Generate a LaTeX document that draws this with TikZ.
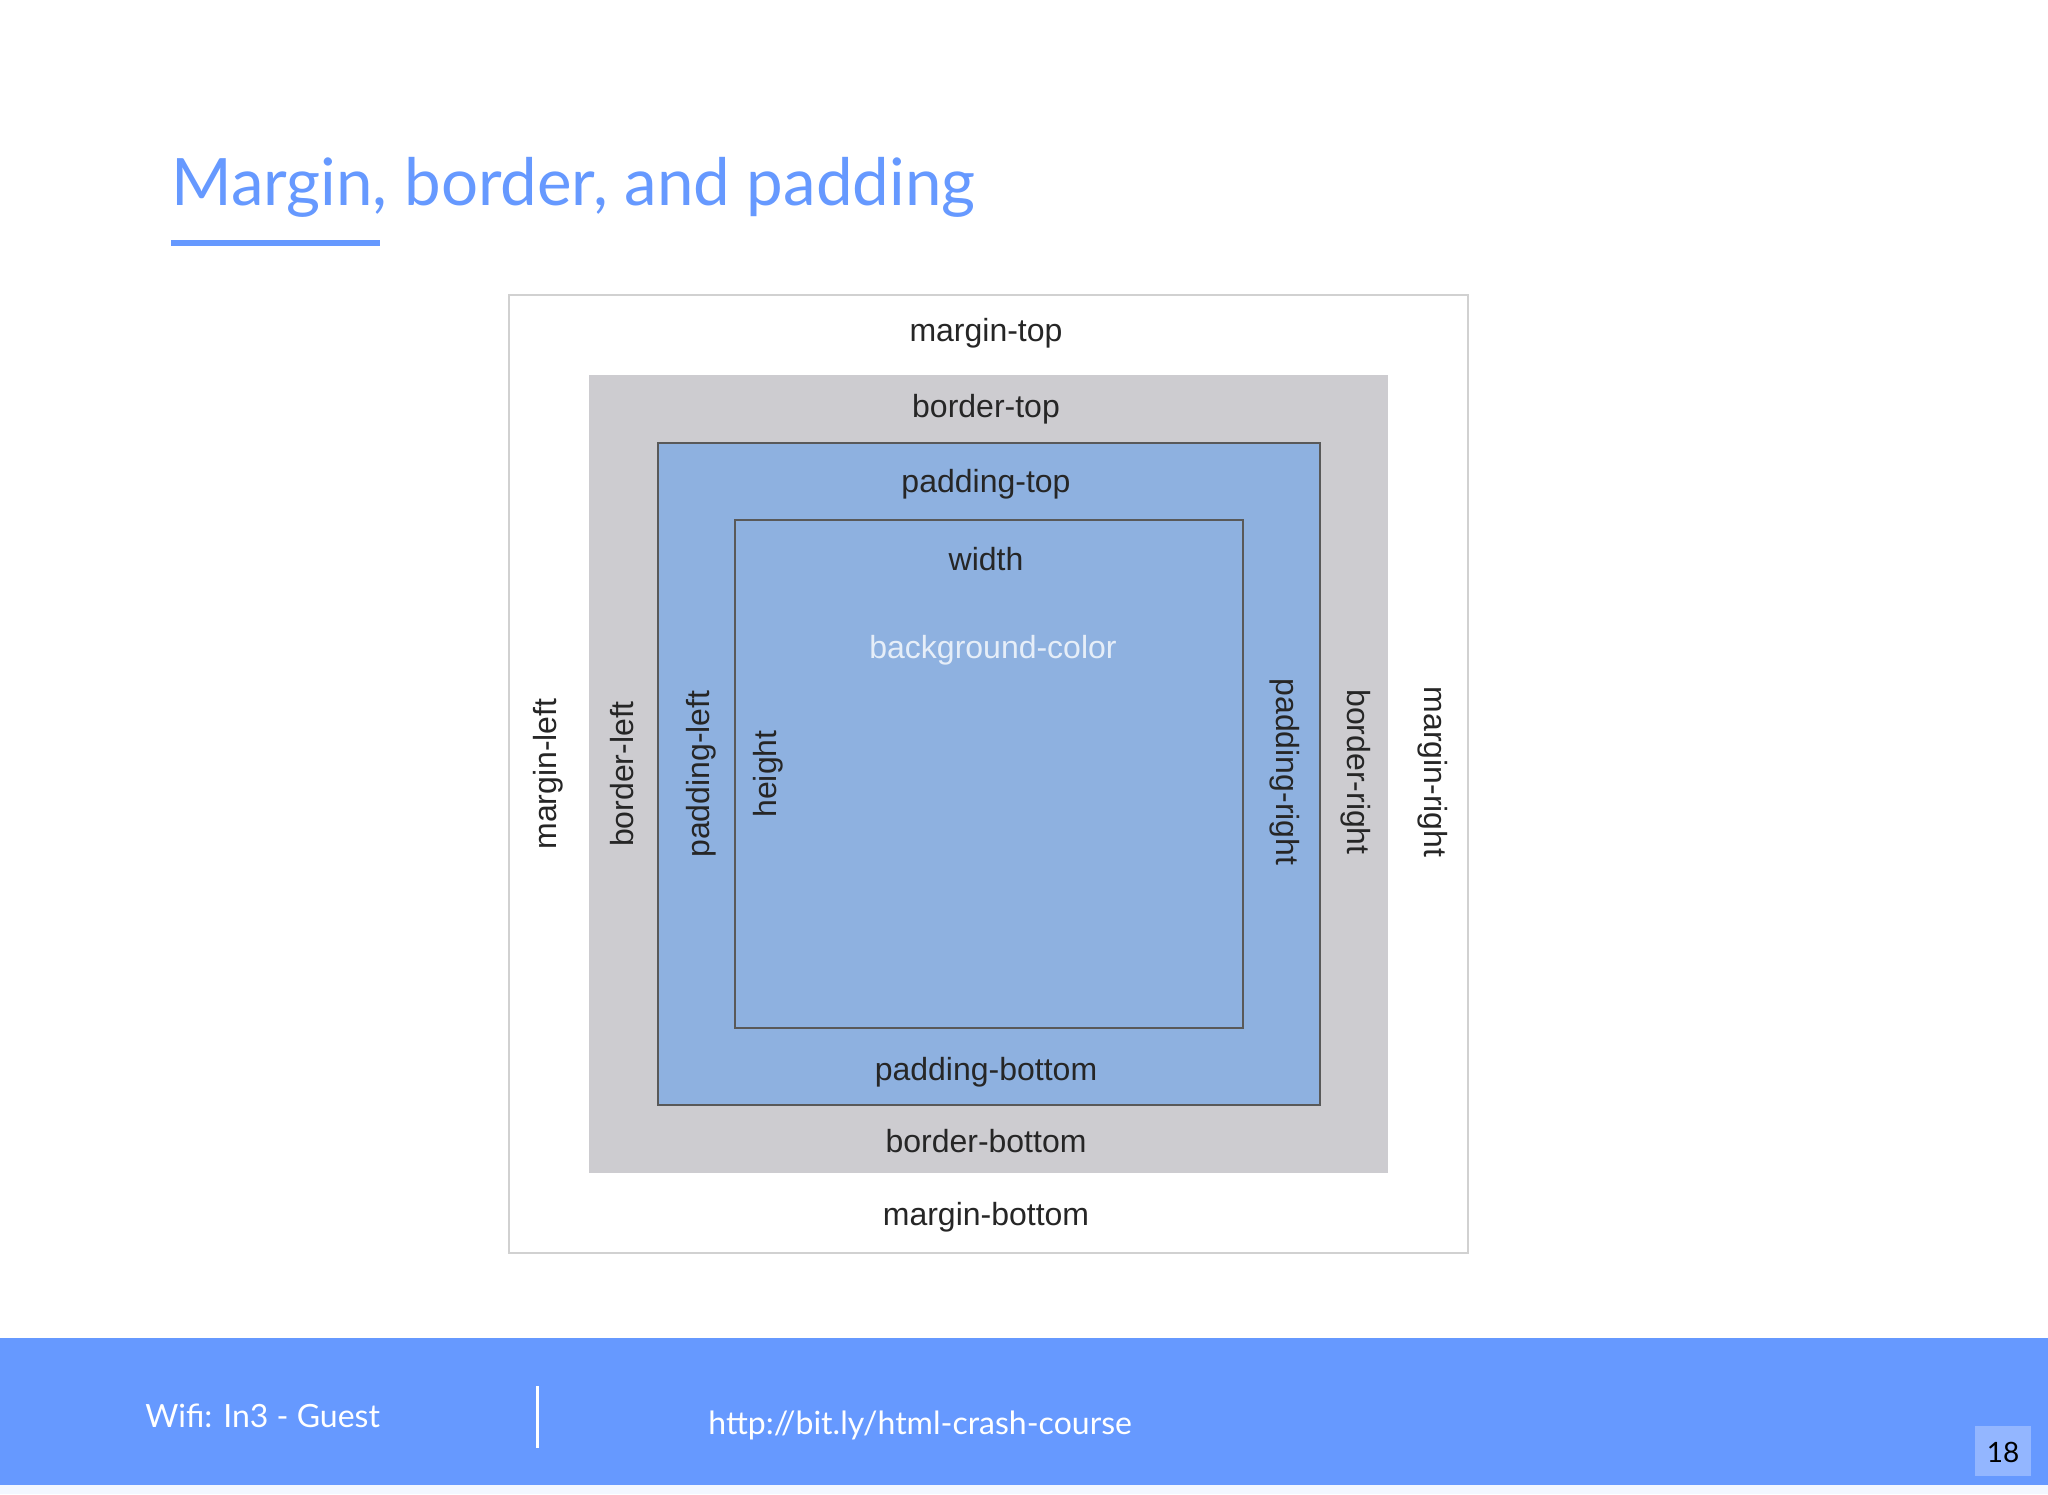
\documentclass[tikz,border=0pt]{standalone}
\usepackage{fontspec}
\setmainfont{Liberation Sans}
\newfontfamily\slidefont{Lato}
\usepackage{xcolor}
\definecolor{accent}{HTML}{6699FF}
\definecolor{boxgray}{HTML}{CDCCD0}
\definecolor{boxblue}{HTML}{8EB1E0}
\definecolor{bgtext}{HTML}{E6EEF8}
\definecolor{pagebox}{HTML}{93B6FF}

\begin{document}
\begin{tikzpicture}[x=0.5pt,y=-0.5pt,
    lbl/.style={font=\fontsize{16}{18}\selectfont, text=black!85, inner sep=0pt},
    foot/.style={font=\slidefont\fontsize{16}{20}\selectfont, text=white, inner sep=0pt, anchor=base west}]
    \useasboundingbox (0,0) rectangle (2048,1494);
    \fill[white] (0,0) rectangle (2048,1494);
    % title
    \node[anchor=base west, inner sep=0pt, text=accent, font=\slidefont\fontsize{32.7}{40}\selectfont] (title) at (171,205) {Margin, border, and padding};
    \fill[accent] (171,240) rectangle (380,246);
    % the boxes
    \draw[black!18, line width=1pt, fill=white] (509,295) rectangle (1468,1253);
    \fill[boxgray] (589,375) rectangle (1388,1173);
    \draw[black!65, line width=1pt, fill=boxblue] (658,443) rectangle (1320,1105);
    \draw[black!65, line width=0.8pt, fill=boxblue] (735,520) rectangle (1243,1028);
    % labels
    \node[lbl] (mtop) at (986,333) {margin-top};
    \node[lbl] (btop) at (986,409) {border-top};
    \node[lbl] (ptop) at (986,484) {padding-top};
    \node[lbl] (width) at (986,559) {width};
    \node[lbl, text=bgtext] (bg) at (993,650) {background-color};
    \node[lbl] (pbottom) at (986,1072) {padding-bottom};
    \node[lbl] (bbottom) at (986,1141) {border-bottom};
    \node[lbl] (mbottom) at (986,1217) {margin-bottom};
    \node[lbl, rotate=90] (mleft) at (548,774) {margin-left};
    \node[lbl, rotate=90] (bleft) at (622,774) {border-left};
    \node[lbl, rotate=90] (pleft) at (701,774) {padding-left};
    \node[lbl, rotate=90] (height) at (768,774) {height};
    \node[lbl, rotate=-90] (pright) at (1285,772) {padding-right};
    \node[lbl, rotate=-90] (bright) at (1356,772) {border-right};
    \node[lbl, rotate=-90] (mright) at (1433,772) {margin-right};
    % footer
    \fill[accent] (0,1338) rectangle (2048,1485);
    \fill[accent!8] (0,1485) rectangle (2048,1494);
    \node[foot] (wifi) at (145,1427) {Wifi: In3 - Guest};
    \coordinate (septop) at (537,1386);
    \coordinate (sepbot) at (537,1448);
    \draw[white, line width=1.5pt] (septop) -- (sepbot);
    \node[foot] (url) at (708,1434) {http://bit.ly/html-crash-course};
    \fill[pagebox] (1975,1426) rectangle (2031,1476);
    \node[inner sep=0pt, font=\slidefont\fontsize{14}{16}\selectfont] (page) at (2003,1452) {18};
\end{tikzpicture}
\end{document}
